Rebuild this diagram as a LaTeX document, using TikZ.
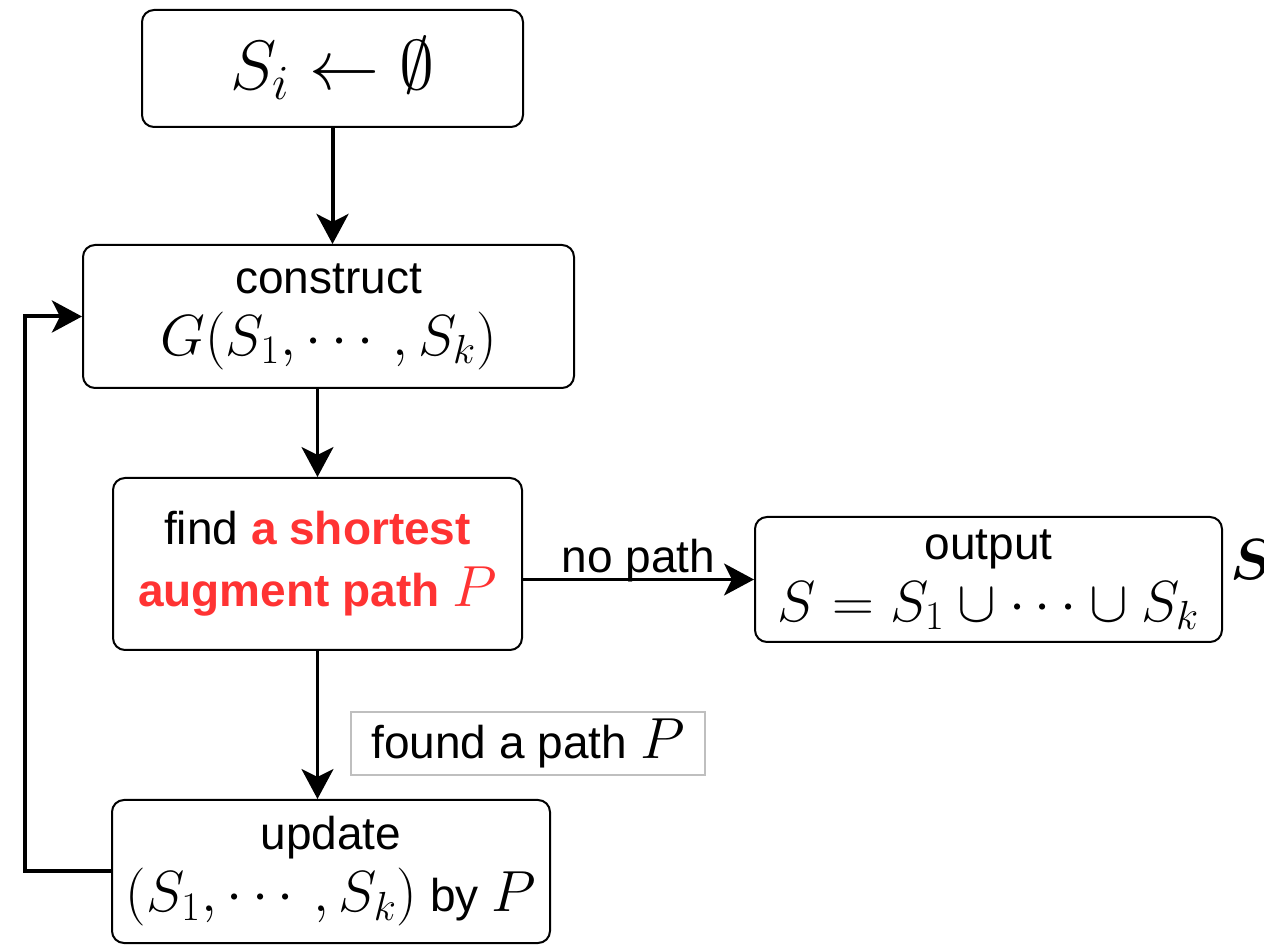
\RequirePackage{fix-cm}
\documentclass[tikz,border=0pt]{standalone}
\usepackage{amsmath, amssymb}
\usepackage{bm}
\usepackage{fontspec}
\setmainfont{Liberation Sans}
\usepackage{tikz}
\usetikzlibrary{arrows.meta, positioning}
\definecolor{pathRed}{RGB}{255,51,51}
\definecolor{labelGray}{gray}{0.75}
\newcommand{\mth}[1]{{\fontsize{29}{34}\selectfont$#1$}}

\begin{document}
\begin{tikzpicture}[x=0.5pt, y=-0.5pt, >={Stealth[length=15pt, width=16pt, inset=4pt]},
    box/.style={draw, rounded corners=6pt, line width=1pt, align=center, inner sep=0pt,
                font=\fontsize{23}{31}\selectfont},
    flow/.style={->, line width=1.6pt}]
    \useasboundingbox (0,0) rectangle (1264,945);

    \node[box, minimum width=190.5pt, minimum height=58.5pt] (init) at (332.5,68.5)
        {{\fontsize{35}{40}\selectfont$S_i \leftarrow \emptyset$}};
    \node[box, minimum width=245.5pt, minimum height=71.5pt] (construct) at (328.5,316.5)
        {construct\\ \mth{G(S_1,\cdots,S_k)}};
    \node[box, minimum width=204.5pt, minimum height=86pt] (find) at (317.5,564)
        {find {\bfseries\color{pathRed}a shortest}\\ {\bfseries\color{pathRed}augment path {\color{pathRed}\mth{P}}}};
    \node[box, minimum width=233.5pt, minimum height=62.5pt] (output) at (988.5,579.5)
        {output\\ \mth{S=S_1\cup\cdots\cup S_k}};
    \node[box, minimum width=219pt, minimum height=71.5pt] (update) at (331,871.5)
        {update\\ \mth{(S_1,\cdots,S_k)} by \mth{P}};

    \node[font=\fontsize{29}{34}\selectfont] (result) at (1252,560) {$\bm{S}$};

    \draw[->, line width=2pt] (init.south) -- (init.south |- construct.north);
    \draw[flow] (find.north |- construct.south) -- (find.north);
    \draw[flow] (find.south) -- (find.south |- update.north);
    \draw[flow] (find.east |- output.west) -- (output.west)
        node[midway, above, yshift=-3pt, font=\fontsize{23}{30}\selectfont, inner sep=1pt] (nopath) {no path};
    \draw[flow, line width=2pt] (update.west) -- (25,871.5) |- (construct.west);

    \node[draw=labelGray, fill=white, line width=0.6pt, minimum width=177pt, minimum height=31.5pt,
          inner sep=0pt, font=\fontsize{23}{30}\selectfont] (found) at (528,743.5)
        {found a path \mth{P}};
\end{tikzpicture}
\end{document}
